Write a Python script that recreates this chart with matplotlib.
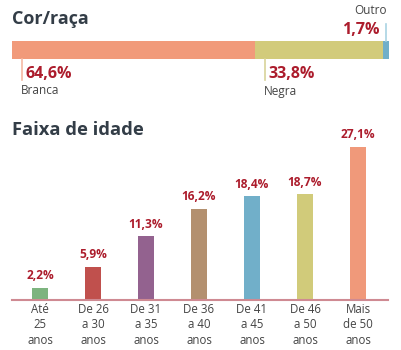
import matplotlib
matplotlib.use("Agg")
import matplotlib.pyplot as plt
import numpy as np

plt.rcParams["font.family"] = ["Open Sans", "DejaVu Sans"]

# --- data ---
race_labels = ["Branca", "Negra", "Outro"]
race_values = [64.6, 33.8, 1.7]
race_colors = ["#f19a7a", "#d2cb7b", "#70afc9"]
race_tick_colors = ["#f5b9a3", "#d8d39a", "#a9d3e3"]

age_labels = ["Até\n25\nanos", "De 26\na 30\nanos", "De 31\na 35\nanos",
              "De 36\na 40\nanos", "De 41\na 45\nanos", "De 46\na 50\nanos",
              "Mais\nde 50\nanos"]
age_values = [2.2, 5.9, 11.3, 16.2, 18.4, 18.7, 27.1]
age_colors = ["#7db47f", "#c0504d", "#93628f", "#b3906f", "#71afc9",
              "#d1cb7a", "#f0997a"]

W, H = 401, 350
RED = "#ac1c2c"
TITLE = "#333d47"
GRAY = "#444444"


def pct(v):
    return f"{v:.1f}".replace(".", ",") + "%"


fig = plt.figure(figsize=(W / 100, H / 100), dpi=100)

# ---------- Cor/raça ----------
ax1 = fig.add_axes([12 / W, 1 - 110 / H, 377 / W, 110 / H])
total = sum(race_values)
starts = np.concatenate([[0], np.cumsum(race_values)[:-1]])
ax1.barh(50, race_values, left=starts, height=18, color=race_colors,
         linewidth=0)
ax1.set_xlim(0, total)
ax1.set_ylim(110, 0)
ax1.axis("off")

px = total / 377  # data units per pixel
for i, (lab, v, s) in enumerate(zip(race_labels, race_values, starts)):
    if i < 2:
        xt = s + 10 * px
        ax1.plot([xt, xt], [59, 80], color=race_tick_colors[i], lw=1.2)
        ax1.text(xt + 3 * px, 74, pct(v), color=RED, fontsize=11.5,
                 fontweight="bold", va="center", ha="left")
        ax1.text(xt - 1 * px, 91, lab, color=GRAY, fontsize=8.5,
                 va="center", ha="left")
    else:
        xt = s + v / 2
        ax1.plot([xt, xt], [24, 41], color=race_tick_colors[i], lw=1.2)
        ax1.text(xt - 6 * px, 30, pct(v), color=RED, fontsize=11.5,
                 fontweight="bold", va="center", ha="right")
        ax1.text(xt + 1 * px, 11, lab, color=GRAY, fontsize=8.5,
                 va="center", ha="right")

fig.text(12 / W, 1 - 19 / H, "Cor/raça", color=TITLE, fontsize=13,
         fontweight="bold", va="center", ha="left")

# ---------- Faixa de idade ----------
ax2 = fig.add_axes([12 / W, 50 / H, 376 / W, 160 / H])
x = np.arange(len(age_values))
ax2.bar(x, age_values, width=0.3, color=age_colors, linewidth=0)
ax2.set_xlim(-0.528, 6.566)
ax2.set_ylim(0, 28.34)
for side in ["top", "right", "left"]:
    ax2.spines[side].set_visible(False)
ax2.spines["bottom"].set_color("#cf8a92")
ax2.spines["bottom"].set_linewidth(1.5)
ax2.set_yticks([])
ax2.set_xticks(x)
ax2.set_xticklabels(age_labels, fontsize=8.3, color=GRAY, linespacing=1.25)
ax2.tick_params(axis="x", length=0, pad=2)

for xi, v in zip(x, age_values):
    ax2.annotate(pct(v), (xi, v), xytext=(0, 4), textcoords="offset points",
                 ha="center", va="bottom", color=RED, fontsize=8.6,
                 fontweight="bold")

fig.text(12 / W, 1 - 130 / H, "Faixa de idade", color=TITLE, fontsize=13.2,
         fontweight="bold", va="center", ha="left")

fig.savefig("out.png", dpi=100)
